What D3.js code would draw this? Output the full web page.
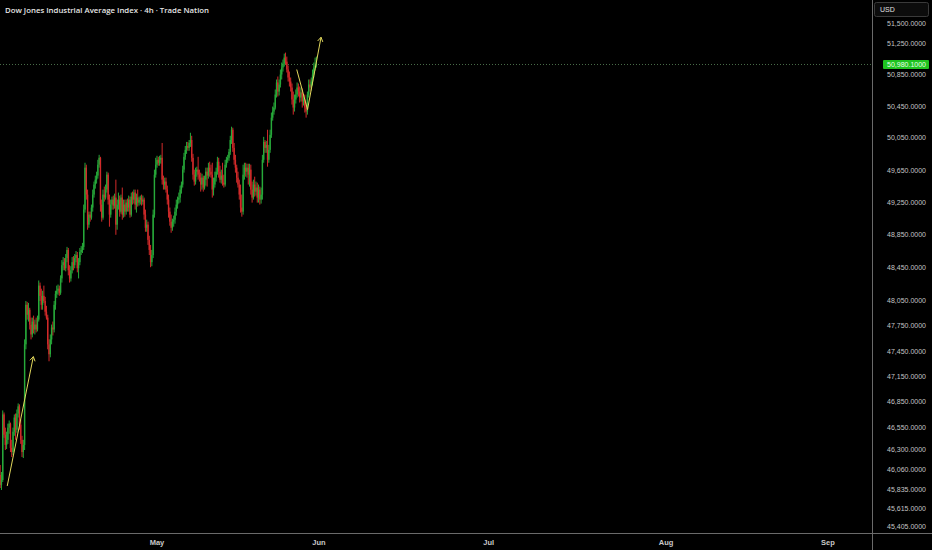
<!DOCTYPE html>
<html><head><meta charset="utf-8">
<script src="https://cdn.jsdelivr.net/npm/d3@7"></script>
<style>html,body{margin:0;padding:0;background:#000;overflow:hidden}</style>
</head><body><svg id="c" width="932" height="550"></svg>
<script>
const title = "Dow Jones Industrial Average Index · 4h · Trade Nation";
const currency = "USD";
const lastPrice = 50980.1;
const priceTicks = [51500,51250,50850,50450,50050,49650,49250,48850,48450,48050,47750,47450,47150,46850,46550,46300,46060,45835,45615,45405];
const monthLabels = ["May","Jun","Jul","Aug","Sep"];
const monthDayIndex = [0,21,43,66,87]; // weekday index counted from 1 May
const firstBarDay = -20 - 2/6;          // first 4h bar, in weekdays from 1 May
const barsPerDay = 6;
// [open, high, low, close]
const ohlc = [
[46001,46116,45851,45886],[45886,46035,45828,45943],[45943,46750,45920,46703],[46703,46726,46431,46466],
[46466,46549,46289,46348],[46348,46502,46300,46407],[46407,46596,46360,46549],[46549,46632,46478,46596],
[46596,46608,46265,46313],[46313,46407,46208,46265],[46265,46549,46231,46502],[46502,46703,46454,46667],
[46667,46714,46407,46525],[46525,46761,46490,46714],[46714,46832,46667,46797],[46797,46821,46525,46584],
[46584,46644,46360,46407],[46407,46454,46208,46265],[46265,46407,46196,46348],[46348,47589,46289,47530],
[47530,48049,47471,48003],[48003,48038,47825,47884],[47884,48026,47802,47944],[47944,47967,47707,47766],
[47766,47849,47589,47648],[47648,47849,47613,47802],[47802,47873,47660,47707],[47707,47825,47648,47766],
[47766,47849,47672,47707],[47707,47873,47684,47825],[47825,48296,47802,48234],[48234,48271,48049,48111],
[48111,48197,47944,48003],[48003,48172,47944,48111],[48111,48234,48026,48049],[48049,48098,47873,47920],
[47920,47991,47825,47849],[47849,47884,47471,47530],[47530,47589,47329,47412],[47412,47648,47376,47589],
[47589,47766,47530,47731],[47731,47802,47636,47707],[47707,48049,47672,48003],[48003,48172,47944,48135],
[48135,48234,48086,48172],[48172,48247,48123,48197],[48197,48234,48111,48148],[48148,48358,48123,48321],
[48321,48543,48271,48481],[48481,48580,48419,48518],[48518,48568,48419,48444],[48444,48617,48407,48568],
[48568,48704,48518,48667],[48667,48691,48358,48419],[48419,48481,48271,48321],[48321,48469,48284,48419],
[48419,48580,48382,48518],[48518,48592,48419,48481],[48481,48617,48444,48568],[48568,48654,48518,48605],
[48605,48642,48395,48444],[48444,48568,48321,48518],[48518,48691,48481,48642],[48642,48716,48605,48667],
[48667,48753,48629,48704],[48704,49223,48667,49161],[49161,49741,49124,49680],[49680,49717,49284,49346],
[49346,49408,48914,48976],[48976,49136,48938,49099],[49099,49136,49013,49062],[49062,49223,49037,49186],
[49186,49408,49136,49346],[49346,49507,49309,49470],[49470,49581,49420,49531],[49531,49630,49482,49581],
[49581,49778,49544,49717],[49717,49840,49680,49803],[49803,49815,49136,49223],[49223,49284,49013,49062],
[49062,49408,49037,49346],[49346,49445,49260,49309],[49309,49470,49284,49408],[49408,49630,49371,49593],
[49593,49618,49223,49284],[49284,49346,48951,49099],[49099,49284,49062,49223],[49223,49321,49161,49284],
[49284,49334,49161,49210],[49210,49358,49173,49309],[49309,49531,48852,48976],[48976,49284,48914,49223],
[49223,49371,49161,49284],[49284,49334,49074,49136],[49136,49346,49111,49309],[49309,49433,49037,49099],
[49099,49284,49062,49223],[49223,49284,49074,49136],[49136,49284,49099,49247],[49247,49297,49136,49186],
[49186,49334,49136,49284],[49284,49321,49062,49099],[49099,49371,49074,49321],[49321,49383,49223,49284],
[49284,49408,49235,49371],[49371,49408,49161,49223],[49223,49358,49124,49309],[49309,49408,49198,49247],
[49247,49321,49210,49284],[49284,49334,49223,49309],[49309,49346,49210,49260],[49260,49334,49223,49284],
[49284,49309,49037,49099],[49099,49161,48889,48938],[48938,49037,48889,48976],[48976,49013,48728,48790],
[48790,48840,48605,48667],[48667,48728,48457,48518],[48518,48667,48469,48605],[48605,49161,48568,49099],
[49099,49655,49062,49593],[49593,49803,49556,49717],[49717,49828,49680,49778],[49778,49815,49704,49741],
[49741,49828,49704,49778],[49778,49840,49729,49803],[49803,49988,49470,49531],[49531,49581,49408,49470],
[49470,49556,49408,49507],[49507,49556,49371,49408],[49408,49457,49223,49284],[49284,49346,49062,49136],
[49136,49186,48963,49013],[49013,49099,48877,48938],[48938,49050,48901,49013],[49013,49087,48951,49037],
[49037,49186,48988,49136],[49136,49284,49087,49223],[49223,49321,49173,49284],[49284,49371,49235,49309],
[49309,49457,49247,49408],[49408,49507,49358,49470],[49470,49704,49433,49655],[49655,49865,49618,49815],
[49815,49951,49778,49902],[49902,50001,49852,49951],[49951,50001,49890,49927],[49927,50025,49890,49988],
[49988,50116,49939,50025],[50025,50078,49754,49803],[49803,49852,49531,49593],[49593,49655,49457,49507],
[49507,49680,49470,49630],[49630,49692,49568,49655],[49655,49815,49531,49593],[49593,49655,49507,49556],
[49556,49618,49383,49470],[49470,49605,49408,49556],[49556,49581,49383,49433],[49433,49581,49408,49531],
[49531,49680,49457,49630],[49630,49680,49445,49581],[49581,49741,49544,49680],[49680,49754,49568,49630],
[49630,49717,49556,49593],[49593,49741,49309,49408],[49408,49556,49334,49470],[49470,49630,49433,49556],
[49556,49680,49507,49630],[49630,49815,49593,49754],[49754,49803,49556,49630],[49630,49704,49494,49531],
[49531,49655,49482,49581],[49581,49741,49457,49494],[49494,49593,49433,49470],[49470,49778,49445,49717],
[49717,49815,49680,49778],[49778,49840,49741,49803],[49803,49914,49766,49877],[49877,50078,49840,50025],
[50025,50192,49976,50154],[50154,50179,49877,49927],[49927,49988,49717,49778],[49778,49840,49618,49680],
[49680,49717,49494,49556],[49556,49630,49433,49470],[49470,49531,49284,49346],[49346,49470,49124,49186],
[49186,49346,49074,49136],[49136,49717,49099,49593],[49593,49741,49531,49680],[49680,49741,49568,49630],
[49630,49729,49556,49680],[49680,49729,49470,49593],[49593,49729,49445,49655],[49655,49717,49346,49408],
[49408,49507,49247,49309],[49309,49531,49284,49470],[49470,49568,49321,49383],[49383,49507,49334,49433],
[49433,49494,49247,49309],[49309,49470,49247,49408],[49408,49445,49223,49284],[49284,49433,49235,49346],
[49346,49840,49284,49778],[49778,50065,49741,50001],[50001,50025,49865,49927],[49927,50013,49865,49964],
[49964,50154,49692,49778],[49778,49964,49741,49902],[49902,50154,49865,50090],[50090,50370,50052,50306],
[50306,50446,50268,50383],[50383,50497,50344,50433],[50433,50662,50408,50598],[50598,50789,50560,50751],
[50751,50827,50573,50636],[50636,50789,50586,50725],[50725,50916,50687,50852],[50852,51005,50789,50941],
[50941,51043,50890,50992],[50992,51119,50954,51068],[51068,51132,50979,51017],[51017,51081,50878,50916],
[50916,50967,50763,50814],[50814,50890,50700,50763],[50763,50814,50636,50687],[50687,50738,50471,50535],
[50535,50636,50344,50433],[50433,50598,50383,50535],[50535,50662,50484,50598],[50598,50751,50560,50687],
[50687,50738,50573,50636],[50636,50700,50497,50560],[50560,50687,50510,50624],[50624,50675,50433,50510],
[50510,50598,50459,50535],[50535,50598,50370,50433],[50433,50497,50306,50383],[50383,50636,50344,50598],
[50598,50789,50560,50725],[50725,50789,50636,50687],[50687,50814,50649,50763],[50763,50916,50713,50852],
[50852,51005,50814,50941],[50941,51068,50903,50967],[50967,51081,50941,50980.1]
];
// hand-drawn yellow arrows: [bar index, price] points
const arrows = [
  [[5.5,45874],[25.8,47384]],
  [[230.7,50916],[239.1,50408],[249.6,51329]]
];

const W = 932, H = 550, plotR = 872, plotB = 533;
const svg = d3.select("#c");
svg.append("rect").attr("width",W).attr("height",H).attr("fill","#000");

const x = d3.scaleLinear().domain([0,87]).range([157,828]);
const y = d3.scaleLog().domain([45337,51810]).range([plotB,0]);
const barDay = i => firstBarDay + i / barsPerDay;

svg.append("clipPath").attr("id","plot").append("rect").attr("width",plotR).attr("height",plotB);
const plot = svg.append("g").attr("clip-path","url(#plot)");

const up = "#27a93a", down = "#d22a2a";
const col = d => d[3] >= d[0] ? up : down;

// current price dotted line
plot.append("line").attr("x1",0).attr("x2",plotR).attr("y1",y(lastPrice)).attr("y2",y(lastPrice))
  .attr("stroke","#5c8a5c").attr("stroke-width",0.8).attr("stroke-dasharray","1,2");

plot.selectAll("line.wick").data(ohlc).join("line").attr("class","wick")
  .attr("x1",(d,i)=>x(barDay(i))).attr("x2",(d,i)=>x(barDay(i)))
  .attr("y1",d=>y(d[1])).attr("y2",d=>y(d[2]))
  .attr("stroke",col).attr("stroke-width",1);
plot.selectAll("rect.body").data(ohlc).join("rect").attr("class","body")
  .attr("x",(d,i)=>x(barDay(i))-0.7).attr("width",1.4)
  .attr("y",d=>y(Math.max(d[0],d[3])))
  .attr("height",d=>Math.max(1,Math.abs(y(d[0])-y(d[3]))))
  .attr("fill",col);

// yellow arrows
const yellow = "#e2d85c";
arrows.forEach(pts=>{
  const p = pts.map(q=>[x(barDay(q[0])), y(q[1])]);
  plot.append("path").attr("d",d3.line()(p)).attr("fill","none").attr("stroke",yellow).attr("stroke-width",1);
  const a = p[p.length-1], b = p[p.length-2];
  const ang = Math.atan2(a[1]-b[1], a[0]-b[0]);
  const L = 5;
  const h1 = [a[0]-L*Math.cos(ang-0.55), a[1]-L*Math.sin(ang-0.55)];
  const h2 = [a[0]-L*Math.cos(ang+0.55), a[1]-L*Math.sin(ang+0.55)];
  plot.append("path").attr("d",d3.line()([h1,a,h2])).attr("fill","none").attr("stroke",yellow).attr("stroke-width",1);
});

// axes lines
svg.append("line").attr("x1",0).attr("x2",W).attr("y1",plotB+0.5).attr("y2",plotB+0.5).attr("stroke","#6a6a6a").attr("stroke-width",1);
svg.append("line").attr("x1",plotR+0.5).attr("x2",plotR+0.5).attr("y1",0).attr("y2",H).attr("stroke","#6a6a6a").attr("stroke-width",1);

const font = "'Liberation Sans', Arial, sans-serif";
const fmt = d3.format(",.4f");
// price axis labels
svg.selectAll("text.pt").data(priceTicks).join("text").attr("class","pt")
  .attr("x",926).attr("y",d=>y(d)).attr("dy","0.35em").attr("text-anchor","end")
  .attr("fill","#c4c4c4").attr("font-family",font).attr("font-size",7).text(d=>fmt(d));

// last price label
const ly = y(lastPrice);
svg.append("rect").attr("x",883).attr("y",ly-4.5).attr("width",46).attr("height",9).attr("rx",1).attr("fill","#1fc41f");
svg.append("text").attr("x",926).attr("y",ly).attr("dy","0.35em").attr("text-anchor","end")
  .attr("fill","#eaffea").attr("font-family",font).attr("font-size",7).text(fmt(lastPrice));

// currency box
svg.append("rect").attr("x",874.5).attr("y",2.5).attr("width",54).attr("height",14).attr("rx",2)
  .attr("fill","#0c0c0c").attr("stroke","#3a3a3a");
svg.append("text").attr("x",880).attr("y",10).attr("dy","0.35em").attr("fill","#e0e0e0")
  .attr("font-family",font).attr("font-size",7).text(currency);

// time axis labels
svg.selectAll("text.mt").data(monthLabels).join("text").attr("class","mt")
  .attr("x",(d,i)=>x(monthDayIndex[i])).attr("y",542).attr("dy","0.35em").attr("text-anchor","middle")
  .attr("fill","#c8c8c8").attr("font-family",font).attr("font-size",7.5).attr("font-weight","bold").text(d=>d);

// title
svg.append("text").attr("x",5).attr("y",10).attr("dy","0.35em").attr("fill","#e6e6e6")
  .attr("font-family","'Open Sans', sans-serif").attr("font-weight",600).attr("font-size",7.8).text(title);
</script></body></html>
